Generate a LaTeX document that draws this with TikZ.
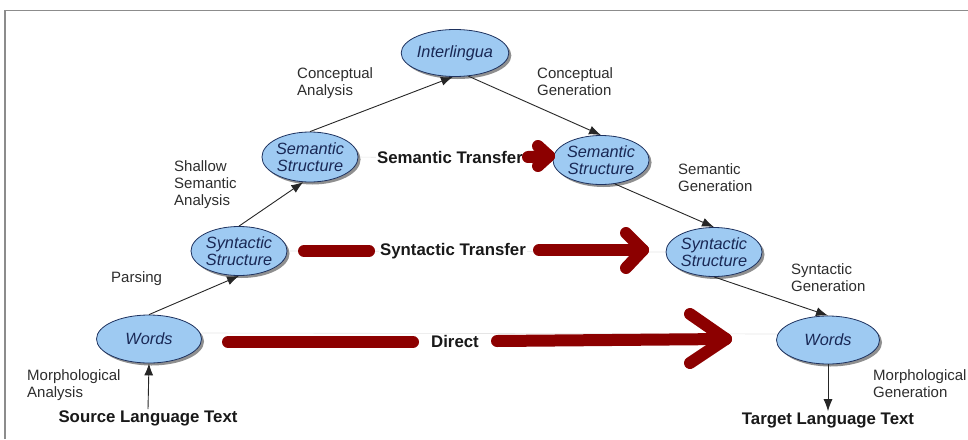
\documentclass[tikz,border=0pt]{standalone}
\usepackage{fontspec}
\setmainfont{Liberation Sans}
\usetikzlibrary{shapes.geometric,shadows,arrows.meta}
\pgfdeclarelayer{bg}
\pgfsetlayers{bg,main}
\definecolor{ellfill}{RGB}{158,202,242}
\definecolor{elldraw}{RGB}{30,50,95}
\definecolor{elltext}{RGB}{25,40,85}
\definecolor{deepred}{RGB}{140,0,0}
\definecolor{labtext}{RGB}{45,45,45}
\definecolor{framegray}{RGB}{140,140,140}
\tikzset{
  ellnode/.style={ellipse, draw=elldraw, line width=0.8pt, fill=ellfill, inner sep=0pt,
    align=center, text=elltext, font=\fontsize{16.3}{17.5}\selectfont\itshape,
    drop shadow={shadow xshift=2.5pt, shadow yshift=-2.5pt, fill=black!55, opacity=0.8}},
  lab/.style={align=left, anchor=north west, inner sep=0pt, text=labtext,
    font=\fontsize{15}{17}\selectfont},
  boldlab/.style={inner sep=1pt, fill=white, font=\fontsize{16.8}{18}\selectfont\bfseries, text=black!90},
  conn/.style={draw=black!85, line width=0.9pt, -{Latex[length=12pt,width=9pt]}},
  redline/.style={draw=deepred, line width=12pt, line cap=round, line join=round},
  ghost/.style={draw=black!10, line width=0.6pt}
}
\begin{document}
\begin{tikzpicture}[x=1pt,y=-1pt]
\useasboundingbox (0,0) rectangle (968,439);
% frame
\draw[framegray, line width=1.6pt] (5,439) -- (5,10.5) -- (968,10.5);

% ellipses
\node[ellnode, minimum width=105pt, minimum height=47pt] (inter) at (455,53) {Interlingua};
\node[ellnode, minimum width=90pt, minimum height=50pt] (sel) at (310,157) {Semantic\\Structure};
\node[ellnode, minimum width=89pt, minimum height=49pt] (ser) at (601,160) {Semantic\\Structure};
\node[ellnode, minimum width=96pt, minimum height=49pt] (syl) at (239,251) {Syntactic\\Structure};
\node[ellnode, minimum width=96pt, minimum height=49pt] (syr) at (714,252) {Syntactic\\Structure};
\node[ellnode, minimum width=105pt, minimum height=48pt] (wl) at (149,339) {Words};
\node[ellnode, minimum width=103pt, minimum height=48pt] (wr) at (828,340) {Words};

% bold labels
\node[boldlab] (src) at (148,418) {Source Language Text};
\node[boldlab] (tgt) at (828,420) {Target Language Text};
\node[boldlab] (semt) at (450,157) {Semantic Transfer};
\node[boldlab] (synt) at (453,251) {Syntactic Transfer};
\node[boldlab] (dir) at (455,341) {Direct};

% small labels
\node[lab] (l1) at (297,67) {Conceptual\\Analysis};
\node[lab] (l2) at (537,67) {Conceptual\\Generation};
\node[lab] (l3) at (174,160) {Shallow\\Semantic\\Analysis};
\node[lab] (l4) at (678,163) {Semantic\\Generation};
\node[lab] (l5) at (111,271) {Parsing};
\node[lab] (l6) at (791,263) {Syntactic\\Generation};
\node[lab] (l7) at (27,369) {Morphological\\Analysis};
\node[lab] (l8) at (873,369) {Morphological\\Generation};

% ghost connectors (behind everything)
\begin{pgfonlayer}{bg}
\draw[ghost] (wl.east) ++(0,-6) -- (777,334);
\draw[ghost] (syl.east) -- (syr.west);
\draw[ghost] (sel.east) -- (ser.west);
\end{pgfonlayer}

% black connectors
\draw[conn] (wl.north) -- (syl.south);
\draw[conn] (syl.north) -- (sel.255);
\draw[conn] (sel.north) -- (inter.-95);
\draw[conn] (inter.-60) -- (ser.north);
\draw[conn] (ser.-60) -- (syr.north);
\draw[conn] (syr.south) -- (wr.north);
\draw[conn] (src.north) -- (wl.south);
\draw[conn] (wr.south) -- (tgt.north);

% red transfer arrows
\coordinate (d1) at (228,342);
\coordinate (d2) at (413,342);
\coordinate (d3) at (497,341);
\coordinate (dt) at (726,339);
\coordinate (du) at (690,314);
\coordinate (dd) at (690,363);
\draw[redline] (d1) -- (d2);
\draw[redline] (d3) -- (dt);
\draw[redline] (du) -- (dt) -- (dd);

\coordinate (s1) at (304,251);
\coordinate (s2) at (369,251);
\coordinate (s3) at (539,250);
\coordinate (st) at (643,250);
\coordinate (su) at (626,233);
\coordinate (sd) at (626,268);
\draw[redline] (s1) -- (s2);
\draw[redline] (s3) -- (st);
\draw[redline] (su) -- (st) -- (sd);

\coordinate (m1) at (528,157);
\coordinate (mt) at (549,156);
\coordinate (mu) at (538,146);
\coordinate (md) at (538,166);
\draw[redline] (m1) -- (mt);
\draw[redline] (mu) -- (mt) -- (md);
\end{tikzpicture}
\end{document}
